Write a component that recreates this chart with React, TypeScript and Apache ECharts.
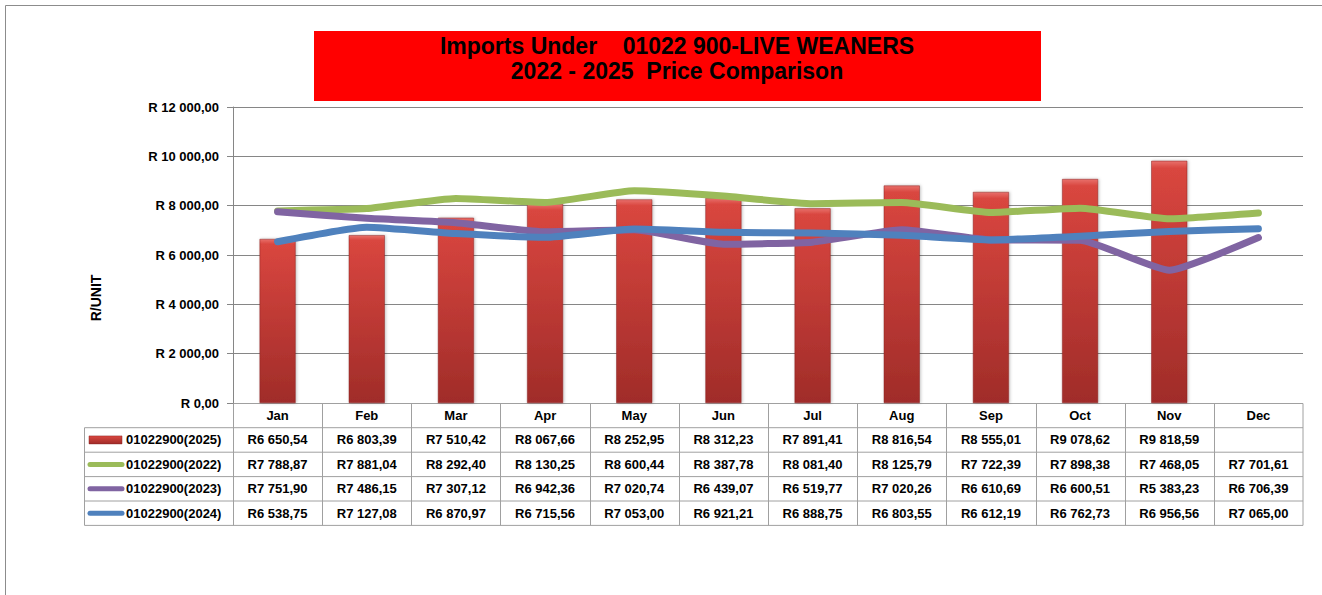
import React, { useEffect, useRef } from "react";
import * as echarts from "echarts";

const months = ["Jan", "Feb", "Mar", "Apr", "May", "Jun", "Jul", "Aug", "Sep", "Oct", "Nov", "Dec"];
const v2025: (number | null)[] = [6650.54, 6803.39, 7510.42, 8067.66, 8252.95, 8312.23, 7891.41, 8816.54, 8555.01, 9078.62, 9818.59, null];
const v2022 = [7788.87, 7881.04, 8292.4, 8130.25, 8600.44, 8387.78, 8081.4, 8125.79, 7722.39, 7898.38, 7468.05, 7701.61];
const v2023 = [7751.9, 7486.15, 7307.12, 6942.36, 7020.74, 6439.07, 6519.77, 7020.26, 6610.69, 6600.51, 5383.23, 6706.39];
const v2024 = [6538.75, 7127.08, 6870.97, 6715.56, 7053.0, 6921.21, 6888.75, 6803.55, 6612.19, 6762.73, 6956.56, 7065.0];
const seriesNames = ["01022900(2025)", "01022900(2022)", "01022900(2023)", "01022900(2024)"];
const titleLines = ["Imports Under    01022 900-LIVE WEANERS", "2022 - 2025  Price Comparison"];
const yAxisName = "R/UNIT";

const FONT = "'Liberation Sans', Arial, sans-serif";
const GREEN = "#9bbb59";
const PURPLE = "#8064a2";
const BLUE = "#4f81bd";
const TABLE_LINE = "#a0a0a0";

function fmt(v: number): string {
  const [i, d] = v.toFixed(2).split(".");
  return i.replace(/\B(?=(\d{3})+(?!\d))/g, " ") + "," + d;
}

const barGradient = () =>
  new echarts.graphic.LinearGradient(0, 0, 0, 1, [
    { offset: 0, color: "#e8706b" },
    { offset: 0.03, color: "#d9463f" },
    { offset: 1, color: "#a02c29" },
  ]);

export default function App() {
  const ref = useRef<HTMLDivElement>(null);
  useEffect(() => {
    if (!ref.current) return;
    const chart = echarts.init(ref.current, null, { renderer: "svg" });
    const gridLeft = 233;
    const gridRight = 1303;
    const gridTop = 107;
    const gridBottom = 403;
    chart.setOption({
      animation: false,
      backgroundColor: "#ffffff",
      textStyle: { fontFamily: FONT },
      grid: { left: gridLeft, right: 1322 - gridRight, top: gridTop, bottom: 595 - gridBottom, containLabel: false },
      xAxis: {
        type: "category",
        data: months,
        boundaryGap: true,
        axisLine: { show: false },
        axisTick: { show: false },
        axisLabel: { color: "#000", fontWeight: "bold", fontSize: 13, fontFamily: FONT, margin: 6 },
      },
      yAxis: {
        type: "value",
        min: 0,
        max: 12000,
        interval: 2000,
        name: yAxisName,
        nameLocation: "middle",
        nameRotate: 90,
        nameGap: 130,
        nameTextStyle: { color: "#000", fontWeight: "bold", fontSize: 14, fontFamily: FONT, padding: [0, 86, 0, 0] },
        axisLine: { show: true, lineStyle: { color: "#868686", width: 1 } },
        axisTick: { show: true, length: 6, lineStyle: { color: "#868686" } },
        axisLabel: {
          color: "#000",
          fontWeight: "bold",
          fontSize: 13,
          fontFamily: FONT,
          margin: 14,
          formatter: (v: number) => "R " + fmt(v),
        },
        splitLine: { show: true, lineStyle: { color: "#868686", width: 1 } },
      },
      series: [
        {
          name: seriesNames[0],
          type: "bar",
          data: v2025,
          barWidth: 36,
          itemStyle: { color: barGradient(), borderColor: "#8a2523", borderWidth: 0.5, shadowColor: "rgba(0,0,0,0.25)", shadowBlur: 3, shadowOffsetX: 1 },
        },
        {
          name: seriesNames[1],
          type: "line",
          data: v2022,
          symbol: "none",
          smooth: 0.15,
          lineStyle: { color: GREEN, width: 7, cap: "round", join: "round" },
          itemStyle: { color: GREEN },
        },
        {
          name: seriesNames[2],
          type: "line",
          data: v2023,
          symbol: "none",
          smooth: 0.15,
          lineStyle: { color: PURPLE, width: 7, cap: "round", join: "round" },
          itemStyle: { color: PURPLE },
        },
        {
          name: seriesNames[3],
          type: "line",
          data: v2024,
          symbol: "none",
          smooth: 0.15,
          lineStyle: { color: BLUE, width: 7, cap: "round", join: "round" },
          itemStyle: { color: BLUE },
        },
      ],
    });

    const centers = months.map((_, i) => chart.convertToPixel({ xAxisIndex: 0 }, i) as number);
    const colW = (gridRight - gridLeft) / months.length;
    const tableLeft = 84.5;
    const headerTop = 403.5;
    const rowTops = [427.7, 452.2, 476.6, 501.0];
    const rowH = 24.4;
    const tableBottom = rowTops[3] + rowH;
    const rows = [v2025, v2022, v2023, v2024];
    const lineColors = [null, GREEN, PURPLE, BLUE];

    const g: any[] = [];
    g.push({ type: "polyline", shape: { points: [[5.5, 595], [5.5, 5.5], [1322, 5.5]] }, style: { stroke: "#8c8c8c", fill: null, lineWidth: 1 }, silent: true });
    g.push({ type: "rect", shape: { x: 314, y: 31, width: 727, height: 70 }, style: { fill: "#ff0000" }, silent: true });
    titleLines.forEach((t, i) => {
      g.push({
        type: "text",
        x: 677,
        y: 46 + i * 25,
        style: { text: t, fill: "#000", font: `bold 23px ${FONT}`, align: "center", verticalAlign: "middle" },
        silent: true,
      });
    });
    g.push({ type: "line", shape: { x1: gridLeft - 0.5, y1: headerTop, x2: gridRight, y2: headerTop }, style: { stroke: TABLE_LINE, lineWidth: 1 }, silent: true });
    [...rowTops, tableBottom].forEach((y) => {
      g.push({ type: "line", shape: { x1: tableLeft, y1: y, x2: gridRight, y2: y }, style: { stroke: TABLE_LINE, lineWidth: 1 }, silent: true });
    });
    g.push({ type: "line", shape: { x1: tableLeft, y1: rowTops[0], x2: tableLeft, y2: tableBottom }, style: { stroke: TABLE_LINE, lineWidth: 1 }, silent: true });
    centers.forEach((c) => {
      const x = Math.round(c - colW / 2) + 0.5;
      g.push({ type: "line", shape: { x1: x, y1: headerTop, x2: x, y2: tableBottom }, style: { stroke: TABLE_LINE, lineWidth: 1 }, silent: true });
    });
    g.push({ type: "line", shape: { x1: gridRight, y1: headerTop, x2: gridRight, y2: tableBottom }, style: { stroke: TABLE_LINE, lineWidth: 1 }, silent: true });
    rows.forEach((vals, r) => {
      const cy = rowTops[r] + rowH / 2;
      if (r === 0) {
        g.push({
          type: "rect",
          shape: { x: 89, y: cy - 4, width: 33, height: 8 },
          style: { fill: barGradient(), stroke: "#8a2523", lineWidth: 0.5 },
          silent: true,
        });
      } else {
        g.push({
          type: "line",
          shape: { x1: 90, y1: cy, x2: 122, y2: cy },
          style: { stroke: lineColors[r], lineWidth: 5, lineCap: "round" },
          silent: true,
        });
      }
      g.push({
        type: "text",
        x: 126,
        y: cy,
        style: { text: seriesNames[r], fill: "#000", font: `bold 13px ${FONT}`, align: "left", verticalAlign: "middle" },
        silent: true,
      });
      vals.forEach((v, i) => {
        if (v == null) return;
        g.push({
          type: "text",
          x: centers[i],
          y: cy,
          style: { text: "R" + fmt(v), fill: "#000", font: `bold 13px ${FONT}`, align: "center", verticalAlign: "middle" },
          silent: true,
        });
      });
    });
    chart.setOption({ graphic: g });

    return () => chart.dispose();
  }, []);
  return <div ref={ref} style={{ position: "fixed", left: 0, top: 0, width: 1322, height: 595 }} />;
}
